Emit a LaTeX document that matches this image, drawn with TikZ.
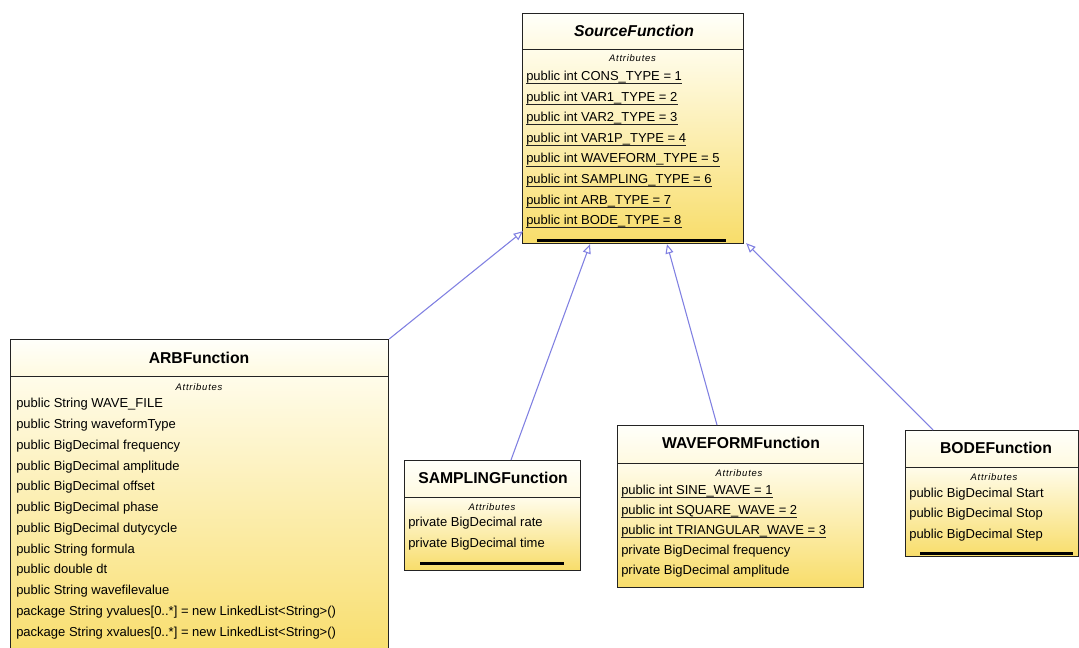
\documentclass[tikz,border=0pt]{standalone}
\usepackage{fontspec}
\setmainfont{Liberation Sans}
\newfontfamily\attrfont[LetterSpace=8]{Liberation Sans}
\usetikzlibrary{arrows.meta,calc}

\definecolor{edgeblue}{RGB}{128,128,226}
\definecolor{headtop}{RGB}{255,255,250}
\definecolor{headbot}{RGB}{255,250,224}
\definecolor{bodytop}{RGB}{255,252,234}
\definecolor{bodybot}{RGB}{248,221,106}
\definecolor{frame}{RGB}{35,35,35}

\def\px{0.75pt}

\tikzset{
  head/.style={draw=frame, line width=0.9pt, rectangle, inner sep=0pt,
    top color=headtop, bottom color=headbot, anchor=north west},
  body/.style={draw=frame, line width=0.9pt, rectangle, inner sep=0pt,
    top color=bodytop, bottom color=bodybot, anchor=north west},
  title/.style={font=\fontsize{11.8pt}{13pt}\selectfont\bfseries, inner sep=0pt},
  attr/.style={font=\attrfont\fontsize{7.1pt}{8pt}\selectfont\itshape, inner sep=0pt},
  rowtext/.style={font=\fontsize{9.75pt}{11pt}\selectfont, inner sep=0pt, anchor=base west},
  ul/.style={draw=frame, line width=0.65pt},
  opsline/.style={draw=black, line width=2pt},
  gen/.style={draw=edgeblue, line width=0.8pt,
    -{Triangle[open, length=7pt, width=6pt, fill=white]}},
}

% underlined (static) attribute: name, position, text
\newcommand\staticrow[3]{%
  \node[rowtext] (#1) at #2 {#3};
  \draw[ul] ([yshift=-2.3pt]#1.base west) -- ([yshift=-2.3pt]#1.base east);}

\begin{document}
\begin{tikzpicture}[x=0.75pt, y=-0.75pt]
\useasboundingbox[fill=white] (0,0) rectangle (1079,648);

% ---------------- SourceFunction ----------------
\node[head, minimum width=221*\px, minimum height=36*\px] (srchead) at (522,13) {};
\node[body, minimum width=221*\px, minimum height=194*\px] (srcbody) at (522,49) {};
\node[title, font=\fontsize{11.8pt}{13pt}\selectfont\bfseries\itshape] (srctitle) at (634,31) {SourceFunction};
\node[attr] (srcattr) at (632.5,58) {Attributes};
\staticrow{s1}{(526,80.5)}{public int CONS\_TYPE = 1}
\staticrow{s2}{(526,101.1)}{public int VAR1\_TYPE = 2}
\staticrow{s3}{(526,121.7)}{public int VAR2\_TYPE = 3}
\staticrow{s4}{(526,142.3)}{public int VAR1P\_TYPE = 4}
\staticrow{s5}{(526,162.9)}{public int WAVEFORM\_TYPE = 5}
\staticrow{s6}{(526,183.5)}{public int SAMPLING\_TYPE = 6}
\staticrow{s7}{(526,204.1)}{public int ARB\_TYPE = 7}
\staticrow{s8}{(526,224.7)}{public int BODE\_TYPE = 8}
\draw[opsline] ($(srcbody.south west)+(15,-4)$) coordinate (srcopsA) -- ($(srcbody.south east)+(-18,-4)$) coordinate (srcopsB);

% ---------------- ARBFunction ----------------
\node[head, minimum width=378*\px, minimum height=37*\px] (arbhead) at (10,339) {};
\node[body, minimum width=378*\px, minimum height=284*\px] (arbbody) at (10,376) {};
\node[title] (arbtitle) at (199,358) {ARBFunction};
\node[attr] (arbattr) at (199,387) {Attributes};
\node[rowtext] (a1) at (16,408) {public String WAVE\_FILE};
\node[rowtext] (a2) at (16,428.75) {public String waveformType};
\node[rowtext] (a3) at (16,449.5) {public BigDecimal frequency};
\node[rowtext] (a4) at (16,470.25) {public BigDecimal amplitude};
\node[rowtext] (a5) at (16,491) {public BigDecimal offset};
\node[rowtext] (a6) at (16,511.75) {public BigDecimal phase};
\node[rowtext] (a7) at (16,532.5) {public BigDecimal dutycycle};
\node[rowtext] (a8) at (16,553.25) {public String formula};
\node[rowtext] (a9) at (16,574) {public double dt};
\node[rowtext] (a10) at (16,594.75) {public String wavefilevalue};
\node[rowtext] (a11) at (16,615.5) {package String yvalues[0..*] = new LinkedList<String>()};
\node[rowtext] (a12) at (16,636.25) {package String xvalues[0..*] = new LinkedList<String>()};

% ---------------- SAMPLINGFunction ----------------
\node[head, minimum width=176*\px, minimum height=37*\px] (samphead) at (404,460) {};
\node[body, minimum width=176*\px, minimum height=73*\px] (sampbody) at (404,497) {};
\node[title] (samptitle) at (493,478) {SAMPLINGFunction};
\node[attr] (sampattr) at (492,507) {Attributes};
\node[rowtext] (p1) at (408,526.5) {private BigDecimal rate};
\node[rowtext] (p2) at (408,547.5) {private BigDecimal time};
\draw[opsline] ($(sampbody.south west)+(16,-8)$) coordinate (sampopsA) -- ($(sampbody.south east)+(-17,-8)$) coordinate (sampopsB);

% ---------------- WAVEFORMFunction ----------------
\node[head, minimum width=246*\px, minimum height=38*\px] (wavehead) at (617,425) {};
\node[body, minimum width=246*\px, minimum height=124*\px] (wavebody) at (617,463) {};
\node[title] (wavetitle) at (741,443) {WAVEFORMFunction};
\node[attr] (waveattr) at (739,473) {Attributes};
\staticrow{w1}{(621,494.5)}{public int SINE\_WAVE = 1}
\staticrow{w2}{(621,514.5)}{public int SQUARE\_WAVE = 2}
\staticrow{w3}{(621,534.5)}{public int TRIANGULAR\_WAVE = 3}
\node[rowtext] (w4) at (621,554.5) {private BigDecimal frequency};
\node[rowtext] (w5) at (621,575) {private BigDecimal amplitude};

% ---------------- BODEFunction ----------------
\node[head, minimum width=173*\px, minimum height=37*\px] (bodehead) at (905,430) {};
\node[body, minimum width=173*\px, minimum height=89*\px] (bodebody) at (905,467) {};
\node[title] (bodetitle) at (996,448) {BODEFunction};
\node[attr] (bodeattr) at (994,477) {Attributes};
\node[rowtext] (b1) at (909,497.5) {public BigDecimal Start};
\node[rowtext] (b2) at (909,518) {public BigDecimal Stop};
\node[rowtext] (b3) at (909,538.5) {public BigDecimal Step};
\draw[opsline] ($(bodebody.south west)+(15,-4)$) coordinate (bodeopsA) -- ($(bodebody.south east)+(-6,-4)$) coordinate (bodeopsB);

% ---------------- generalizations ----------------
\draw[gen] (arbhead.north east) -- ($(srcbody.south west)+(1,-13)$);
\draw[gen] ($(samphead.north west)+(107,0)$) -- ($(srcbody.south west)+(68,0)$);
\draw[gen] ($(wavehead.north west)+(100,0)$) -- ($(srcbody.south west)+(145,0)$);
\draw[gen] ($(bodehead.north west)+(28,0)$) -- ($(srcbody.south east)+(2,-1)$);
\end{tikzpicture}
\end{document}
